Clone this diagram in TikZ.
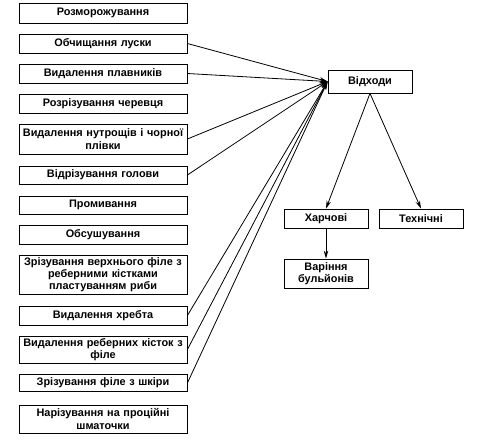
\documentclass[tikz,border=0pt]{standalone}
\usepackage{fontspec}
\setmainfont{Liberation Sans}
\usetikzlibrary{arrows.meta}
\begin{document}
\begin{tikzpicture}[x=1pt,y=-1pt,
  box/.style={draw=black, line width=0.8pt, inner sep=0.5pt, align=center,
    font=\fontsize{10.9}{12.2}\selectfont\bfseries},
  lbox/.style={box, minimum width=168pt, text width=167pt},
  rbox/.style={box, minimum width=84pt, text width=83pt},
  conn/.style={line width=0.8pt, draw=black},
  arr/.style={conn, -{Stealth[length=8pt,width=4.5pt]}}]
\useasboundingbox (0,0) rectangle (480,440);
\node[lbox, minimum height=20pt] (b1) at (103,13) {Розморожування};
\node[lbox, minimum height=19pt] (b2) at (103,43.5) {Обчищання луски};
\node[lbox, minimum height=19pt] (b3) at (103,73.5) {Видалення плавників};
\node[lbox, minimum height=19pt] (b4) at (103,103.5) {Розрізування черевця};
\node[lbox, minimum height=30pt] (b5) at (103,139) {Видалення нутрощів і чорної\\плівки};
\node[lbox, minimum height=18pt] (b6) at (103,175) {Відрізування голови};
\node[lbox, minimum height=18pt] (b7) at (103,205) {Промивання};
\node[lbox, minimum height=19pt] (b8) at (103,234.5) {Обсушування};
\node[lbox, minimum height=39pt] (b9) at (103,274.5) {Зрізування верхнього філе з\\реберними кістками\\пластуванням риби};
\node[lbox, minimum height=19pt] (b10) at (103,315.5) {Видалення хребта};
\node[lbox, minimum height=27pt] (b11) at (103,349.5) {Видалення реберних кісток з\\філе};
\node[lbox, minimum height=17pt] (b12) at (103,383) {Зрізування філе з шкіри};
\node[lbox, minimum height=28pt] (b13) at (103,419) {Нарізування на процiйні\\шматочки};
\node[rbox, minimum height=23pt] (vid) at (370,81.5) {Відходи};
\node[rbox, minimum height=19pt] (har) at (326,218.5) {Харчові};
\node[rbox, minimum height=19pt] (teh) at (421,218.5) {Технічні};
\node[rbox, minimum height=29pt] (var) at (326,273.5) {Варіння\\бульйонів};
\foreach \b in {b2,b3,b5,b6,b10,b11,b12}
  \draw[arr] (\b.east) -- (vid.west);
\draw[arr] (vid.south) -- (har.north);
\draw[arr] (vid.south) -- (teh.north);
\draw[arr] (har.south) -- (var.north);
\end{tikzpicture}
\end{document}
